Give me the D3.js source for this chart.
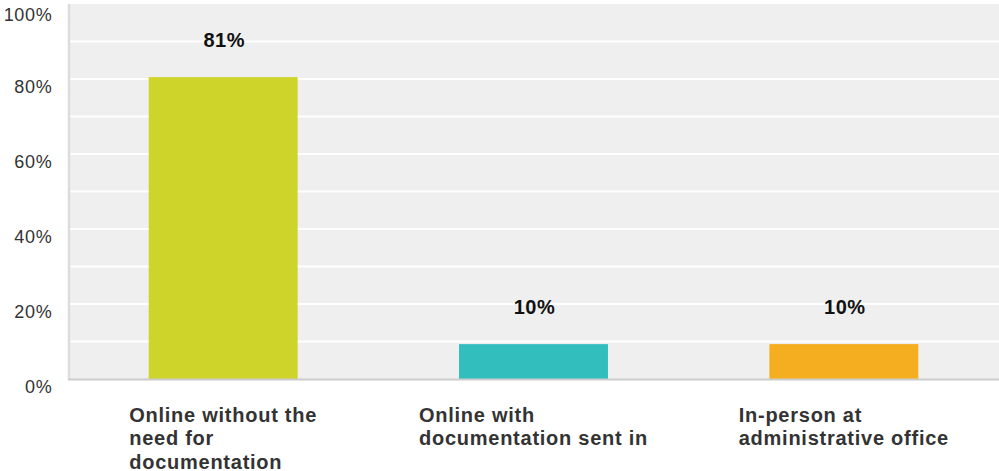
<!DOCTYPE html>
<html>
<head>
<meta charset="utf-8">
<script src="https://cdn.jsdelivr.net/npm/d3@7"></script>
<style>
  html, body { margin: 0; padding: 0; background: #fff; }
  svg { display: block; font-family: "Liberation Sans", Arial, sans-serif; }
</style>
</head>
<body>
<svg id="chart" width="999" height="471"></svg>
<script>
const categories = [
  ["Online without the", "need for", "documentation"],
  ["Online with", "documentation sent in"],
  ["In-person at", "administrative office"]
];
const values = [80.5, 9.3, 9.3];
const valueLabels = ["81%", "10%", "10%"];
const colors = ["#cfd42a", "#33bebe", "#f6ae21"];
const tickValues = [0, 20, 40, 60, 80, 100];
const gridValues = [10, 20, 30, 40, 50, 60, 70, 80, 90];

const W = 999, H = 471;
const plot = { left: 68, right: 999, top: 4, bottom: 379 };
const svg = d3.select("#chart");

const x = d3.scaleBand().domain(d3.range(categories.length)).range([plot.left, plot.right]).paddingInner(0).paddingOuter(0);
const y = d3.scaleLinear().domain([0, 100]).range([plot.bottom, plot.top]);
const barW = x.bandwidth() * 0.48;

// plot background
svg.append("rect").attr("x", plot.left).attr("y", plot.top)
  .attr("width", plot.right - plot.left).attr("height", plot.bottom - plot.top)
  .attr("fill", "#efefef");

// gridlines
svg.append("g").selectAll("line").data(gridValues).join("line")
  .attr("x1", plot.left).attr("x2", plot.right)
  .attr("y1", d => y(d)).attr("y2", d => y(d))
  .attr("stroke", "#ffffff").attr("stroke-width", 2);

// left border
svg.append("line").attr("x1", plot.left + 1).attr("x2", plot.left + 1)
  .attr("y1", plot.top).attr("y2", plot.bottom + 1)
  .attr("stroke", "#dcdcdc").attr("stroke-width", 2.5);

// bars
svg.append("g").selectAll("rect").data(values).join("rect")
  .attr("x", (d, i) => x(i) + x.bandwidth() / 2 - barW / 2)
  .attr("width", barW)
  .attr("y", d => y(d))
  .attr("height", d => y(0) - y(d))
  .attr("fill", (d, i) => colors[i]);

// bottom axis line
svg.append("line").attr("x1", plot.left).attr("x2", plot.right)
  .attr("y1", plot.bottom + 0.5).attr("y2", plot.bottom + 0.5)
  .attr("stroke", "#cccccc").attr("stroke-width", 2);

// y tick labels
const yAxis = d3.axisLeft(y).tickValues(tickValues).tickFormat(d => d + "%").tickSize(0).tickPadding(0);
const ya = svg.append("g").attr("transform", "translate(52.5,0)").call(yAxis);
ya.select(".domain").remove();
ya.selectAll(".tick").attr("transform", d => `translate(0,${Math.max(y(d), 7)})`);
ya.selectAll("text")
  .attr("dy", null).attr("y", 13.5).attr("x", 0)
  .attr("text-anchor", "end")
  .attr("font-family", "'Liberation Sans', Arial, sans-serif")
  .attr("font-size", 18).attr("letter-spacing", "0.7px").attr("fill", "#333");

// value labels
svg.append("g").selectAll("text").data(values).join("text")
  .attr("x", (d, i) => x(i) + x.bandwidth() / 2 + 1)
  .attr("y", d => y(d) - 30.5)
  .attr("text-anchor", "middle")
  .attr("font-size", 20).attr("font-weight", "bold").attr("letter-spacing", "0.5px").attr("fill", "#111")
  .text((d, i) => valueLabels[i]);

// category labels: left-aligned block centered in band
categories.forEach((lines, i) => {
  const g = svg.append("g");
  const t = g.append("text").attr("font-size", 20).attr("font-weight", "bold")
    .attr("letter-spacing", "0.75px").attr("fill", "#333");
  t.selectAll("tspan").data(lines).join("tspan")
    .attr("x", 0).attr("y", (d, j) => 421.5 + j * 23.7).text(d => d);
  const w = t.node().getBBox().width;
  g.attr("transform", `translate(${x(i) + x.bandwidth() / 2 - w / 2},0)`);
});
</script>
</body>
</html>
